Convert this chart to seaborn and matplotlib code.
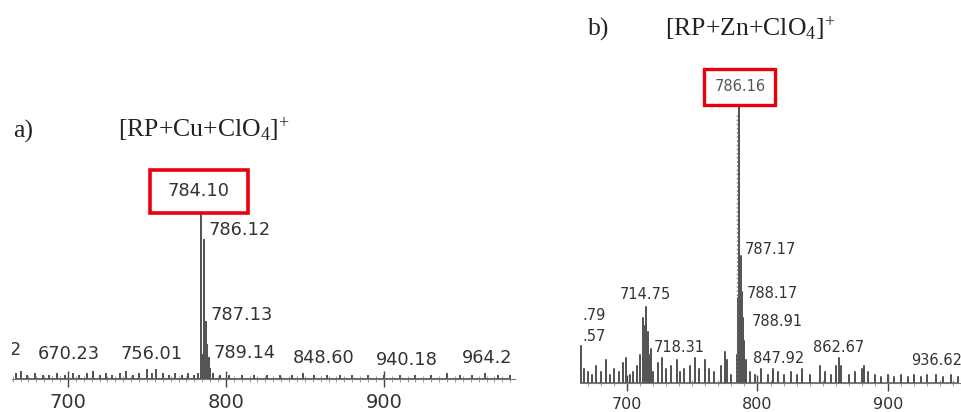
import numpy as np
import pandas as pd
import matplotlib
matplotlib.use("Agg")
import matplotlib.pyplot as plt
from matplotlib.patches import Rectangle
import seaborn as sns

# ---------------- data ----------------
# panel a: [RP+Cu+ClO4]+  (m/z, relative intensity %)
a_mz = [667, 670.23, 674, 679, 684, 688, 693, 698, 703, 707, 712, 716, 720, 724, 728,
        733, 737, 741, 745, 750, 753, 756.01, 760, 764, 768, 772, 776, 780, 782.5,
        784.10, 785.1, 786.12, 787.13, 788.12, 789.14, 790.1, 792, 796, 802, 810,
        818, 826, 834, 842, 848.60, 856, 864, 872, 880, 890, 900, 910, 920, 930,
        940.18, 948, 956, 964.2, 972, 980]
a_int = [3, 4, 2, 3, 2, 2, 3, 2, 3, 2, 3, 4, 2, 3, 2,
         3, 4, 2, 3, 5, 3, 5, 3, 2, 3, 2, 3, 2, 3,
         100, 14, 81, 33, 20, 12, 6, 3, 2, 2, 2,
         2, 2, 2, 2, 3, 2, 2, 2, 2, 2, 2, 2, 2, 2,
         3, 2, 2, 3, 2, 2]
a_labels = ["2", "670.23", "756.01", "789.14", "848.60", "940.18", "964.2", "787.13", "786.12"]
a_top_label = "784.10"

# panel b: [RP+Zn+ClO4]+
b_mz = [665, 667, 670, 673, 676, 680, 684, 687, 690, 694, 697, 699, 702, 705, 708,
        710, 712, 713.7, 714.75, 716, 717, 718.31, 720, 724, 727, 730, 734, 738, 741,
        744, 748, 752, 755, 760, 763, 767, 772, 775, 777, 780, 784.2, 785.15, 786.16,
        787.17, 788.17, 788.91, 790, 791, 794, 798, 803, 808, 812, 816, 820, 826, 830,
        834, 840, 847.92, 852, 856, 860, 862.67, 864, 870, 875, 880, 882, 885, 890,
        895, 900, 905, 910, 915, 920, 925, 930, 936.62, 942, 948, 954]
b_int = [13, 5, 4, 3, 6, 4, 8, 3, 5, 4, 7, 9, 3, 4, 6,
         10, 23, 20, 27, 18, 10, 12, 4, 7, 9, 5, 6, 8, 4,
         5, 6, 9, 5, 8, 5, 4, 6, 11, 8, 3, 10, 30, 100,
         45, 32, 23, 15, 8, 4, 3, 5, 3, 5, 4, 3, 4, 3,
         5, 3, 6, 4, 3, 6, 9, 6, 3, 4, 5, 6, 4, 3,
         2, 3, 2, 3, 2, 3, 2, 3, 3, 2, 3, 2]
b_dotted_mz = [784.0]
b_dotted_int = [95]
b_labels = [".79", ".57", "714.75", "718.31", "788.17", "788.91", "847.92", "862.67", "936.62", "787.17"]
b_top_label = "786.16"

ticks = [700, 800, 900]

# ---------------- style ----------------
sns.set_theme(style="white")
plt.rcParams["font.family"] = ["DejaVu Sans"]
plt.rcParams["mathtext.fontset"] = "custom"
plt.rcParams["mathtext.rm"] = "Liberation Serif"
plt.rcParams["mathtext.it"] = "Liberation Serif"

W, H = 961, 412
fig = plt.figure(figsize=(W / 100, H / 100), dpi=100)
fig.patch.set_facecolor("white")

TXT = "#333333"
PEAK = "#555555"


def stick_frame(mz, inten):
    xs, ys, order = [], [], []
    k = 0
    for m, h in zip(mz, inten):
        for yy in (0, h, 0):
            xs.append(m)
            ys.append(yy)
            order.append(k)
            k += 1
    return pd.DataFrame({"mz": xs, "intensity": ys, "order": order})


def setup_axis(ax, xlim, ylim, tick_fs, minor_step):
    ax.set_xlim(*xlim)
    ax.set_ylim(*ylim)
    for s in ("left", "top", "right"):
        ax.spines[s].set_visible(False)
    ax.spines["bottom"].set_color("#777777")
    ax.spines["bottom"].set_linewidth(0.8)
    ax.set_yticks([])
    ax.set_xticks(ticks)
    ax.set_xticks(np.arange(np.ceil(xlim[0] / minor_step) * minor_step, xlim[1], minor_step), minor=True)
    ax.tick_params(axis="x", which="major", direction="inout", length=12, width=1.0,
                   color="#444444", labelsize=tick_fs, labelcolor=TXT, pad=4, bottom=True)
    ax.tick_params(axis="x", which="minor", direction="inout", length=5, width=0.6,
                   color="#888888", bottom=True)
    ax.set_xlabel("")
    ax.set_ylabel("")
    ax.patch.set_alpha(0)


# ---------------- panel a ----------------
axa = fig.add_axes([12 / W, 33 / H, 503 / W, 229 / H])
dfa = stick_frame(a_mz, a_int)
sns.lineplot(data=dfa, x="mz", y="intensity", sort=False, estimator=None, ax=axa,
             color=PEAK, lw=1.3)
setup_axis(axa, (664.6, 983.0), (0, 133.1), 14, 5)

a_lab_x = [670.3, 700.6, 753.2, 812.0, 862.0, 914.6, 965.2, 810.1, 808.9]
a_lab_y = [16.9, 14.5, 14.5, 15.1, 12.2, 11.0, 12.2, 37.2, 86.6]
a_lab_ha = ["right"] + ["center"] * 8
for t, x, y, ha in zip(a_labels, a_lab_x, a_lab_y, a_lab_ha):
    axa.text(x, y, t, ha=ha, va="center", fontsize=12.8, color=TXT, clip_on=True)
axa.add_patch(Rectangle((751.9, 96.5), 62.0, 25.0, fc="white", ec="#e8000b", lw=2.6, zorder=5))
axa.text(782.9, 109.3, a_top_label, ha="center", va="center", fontsize=12.8, color=TXT, zorder=6)

# ---------------- panel b ----------------
axb = fig.add_axes([580 / W, 29 / H, 381 / W, 328 / H])
dfb = stick_frame(b_mz, b_int)
sns.lineplot(data=dfb, x="mz", y="intensity", sort=False, estimator=None, ax=axb,
             color=PEAK, lw=1.1)
axb.vlines(b_dotted_mz, 0, b_dotted_int, colors="#777777", linestyles=(0, (1, 2)), lw=1.0)
setup_axis(axb, (664.0, 956.0), (0, 115.9), 11.5, 10)

b_lab_x = [665.5, 665.5, 713.8, 739.8, 811.1, 814.9, 816.5, 862.5, 937.5, 810.3]
b_lab_y = [24.0, 16.3, 31.1, 12.7, 31.8, 21.6, 8.8, 12.4, 7.8, 47.3]
b_lab_ha = ["left", "left"] + ["center"] * 8
for t, x, y, ha in zip(b_labels, b_lab_x, b_lab_y, b_lab_ha):
    axb.text(x, y, t, ha=ha, va="center", fontsize=10.5, color=TXT, clip_on=True)
axb.add_patch(Rectangle((759.0, 98.2), 54.4, 12.8, fc="white", ec="#e8000b", lw=2.4, zorder=5))
axb.text(786.6, 104.6, b_top_label, ha="center", va="center", fontsize=10.5, color="#555555", zorder=6)

# ---------------- titles ----------------
fig.text(13 / W, 1 - 131 / H, "a)", fontsize=18.5, family="Liberation Serif", color="#222222",
         ha="left", va="center")
fig.text(118 / W, 1 - 130 / H, r"[RP+Cu+ClO$_4$]$^{+}$", fontsize=18.5, family="Liberation Serif",
         color="#222222", ha="left", va="center")
fig.text(588 / W, 1 - 29 / H, "b)", fontsize=18.5, family="Liberation Serif", color="#222222",
         ha="left", va="center")
fig.text(665 / W, 1 - 29 / H, r"[RP+Zn+ClO$_4$]$^{+}$", fontsize=18.5, family="Liberation Serif",
         color="#222222", ha="left", va="center")

fig.savefig("out.png", dpi=100, facecolor="white")
